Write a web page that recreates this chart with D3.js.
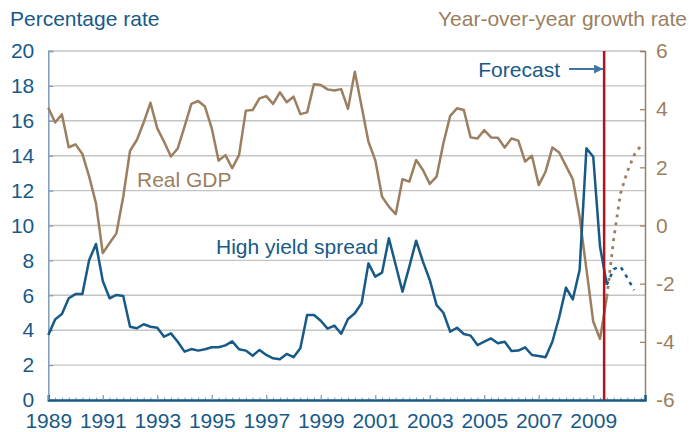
<!DOCTYPE html>
<html>
<head>
<meta charset="utf-8">
<script src="https://cdn.jsdelivr.net/npm/d3@7"></script>
<style>
  body { margin: 0; background: #fff; }
  text { font-family: "Liberation Sans", Arial, sans-serif; }
</style>
</head>
<body>
<div id="main-container"></div>
<script>
// DATA (quarterly, starting 1989 Q1)
const startYear = 1989;
const forecastYear = 2009.4;
const forecastStart = 82; // quarter index where forecasts begin

// Real GDP, year-over-year growth rate (right axis)
const gdpActual = [
  4.05, 3.54, 3.82, 2.69, 2.79, 2.46, 1.68, 0.76, -0.95, -0.6,
  -0.27, 0.99, 2.57, 2.94, 3.54, 4.22, 3.34, 2.88, 2.37, 2.65,
  3.40, 4.18, 4.28, 4.09, 3.34, 2.23, 2.42, 1.97, 2.42, 3.95,
  3.97, 4.37, 4.45, 4.18, 4.58, 4.24, 4.43, 3.83, 3.89, 4.86,
  4.83, 4.68, 4.64, 4.69, 4.01, 5.29, 4.09, 2.88, 2.25, 0.99,
  0.65, 0.39, 1.59, 1.51, 2.25, 1.91, 1.43, 1.68, 2.83, 3.77,
  4.03, 3.97, 3.03, 2.99, 3.28, 3.03, 3.02, 2.68, 2.99, 2.92,
  2.20, 2.40, 1.39, 1.85, 2.68, 2.51, 2.05, 1.59, 0.3, -1.5,
  -3.3, -3.9, -2.45
];
const gdpForecast = [-2.45, -0.47, 1.1, 1.85, 2.42, 2.75];

// High yield spread, percentage rate (left axis)
const spreadActual = [
  3.72, 4.62, 4.93, 5.83, 6.07, 6.07, 8.02, 8.94, 6.82, 5.83,
  6.02, 5.96, 4.20, 4.11, 4.34, 4.20, 4.14, 3.63, 3.82, 3.34,
  2.77, 2.92, 2.83, 2.91, 3.02, 3.02, 3.13, 3.36, 2.91, 2.83,
  2.54, 2.87, 2.58, 2.39, 2.33, 2.64, 2.45, 2.96, 4.87, 4.87,
  4.54, 4.09, 4.26, 3.80, 4.64, 4.97, 5.54, 7.83, 7.07, 7.30,
  9.27, 7.74, 6.21, 7.64, 9.13, 7.93, 6.88, 5.44, 5.00, 3.92,
  4.14, 3.78, 3.69, 3.15, 3.34, 3.53, 3.25, 3.34, 2.81, 2.83,
  3.02, 2.58, 2.52, 2.45, 3.34, 4.74, 6.44, 5.77, 7.45, 14.42,
  13.94, 8.78, 6.6
];
const spreadForecast = [6.6, 7.5, 7.65, 7.0, 6.3];

const yearTicks = [1989, 1991, 1993, 1995, 1997, 1999, 2001, 2003, 2005, 2007, 2009];
const leftTicks = [0, 2, 4, 6, 8, 10, 12, 14, 16, 18, 20];
const rightTicks = [-6, -4, -2, 0, 2, 4, 6];

// CONSTANTS
const W = 689, H = 432;
const plot = {left: 48.3, right: 645, top: 51, bottom: 400};
const blue = "#175a87", tan = "#9b7f60", red = "#b3141c";

const toYear = (i) => startYear + i / 4;
const actual = (arr) => arr.map((v, i) => ({t: toYear(i), v}));
const forecast = (arr) => arr.map((v, i) => ({t: toYear(forecastStart + i), v}));

// DRAWING SETUP
let svg = d3.select("#main-container")
  .append("svg")
    .attr("width", W)
    .attr("height", H)
    .style("background", "#fff");

let x = d3.scaleLinear().domain([1989, 2010.9]).range([plot.left, plot.right]);
let yL = d3.scaleLinear().domain([0, 20]).range([plot.bottom, plot.top]);
let yR = d3.scaleLinear().domain([-6, 6]).range([plot.bottom, plot.top]);

// gridlines
svg.append("g")
  .selectAll("line")
  .data(leftTicks.slice(1))
  .enter()
  .append("line")
    .attr("x1", plot.left)
    .attr("x2", plot.right)
    .attr("y1", (d) => yL(d))
    .attr("y2", (d) => yL(d))
    .attr("stroke", "#c4c4c4")
    .attr("stroke-width", 1.4);

// left axis
let leftAxis = svg.append("g")
  .attr("transform", `translate(${plot.left}, 0)`)
  .call(d3.axisLeft(yL).tickValues(leftTicks).tickSize(-5).tickPadding(14));
leftAxis.select(".domain").attr("stroke", "#7f9cb8").attr("stroke-width", 1.5);
leftAxis.selectAll(".tick line").attr("stroke", "#7f9cb8").attr("stroke-width", 1.2);
leftAxis.selectAll("text").attr("fill", blue).style("font-size", "21px");

// right axis
let rightAxis = svg.append("g")
  .attr("transform", `translate(${plot.right}, 0)`)
  .call(d3.axisRight(yR).tickValues(rightTicks).tickSize(-5).tickPadding(11)
    .tickFormat((d) => String(d)));
rightAxis.select(".domain").attr("stroke", tan).attr("stroke-width", 1.5);
rightAxis.selectAll(".tick line").attr("stroke", tan).attr("stroke-width", 1.2);
rightAxis.selectAll("text").attr("fill", tan).style("font-size", "21px");

// minor quarterly ticks
let minor = svg.append("g")
  .attr("transform", `translate(0, ${plot.bottom})`)
  .call(d3.axisBottom(x).tickValues(d3.range(0, 88).map(toYear)).tickSize(-2.5).tickFormat(""));
minor.select(".domain").remove();
minor.selectAll(".tick line").attr("stroke", "#7f9cb8").attr("stroke-width", 1);

// bottom axis
let xAxis = svg.append("g")
  .attr("transform", `translate(0, ${plot.bottom})`)
  .call(d3.axisBottom(x).tickValues(yearTicks).tickSize(-5).tickPadding(13)
    .tickFormat(d3.format("d")));
xAxis.select(".domain").attr("stroke", blue).attr("stroke-width", 2.5);
xAxis.selectAll(".tick line").attr("stroke", "#7f9cb8").attr("stroke-width", 1.2);
xAxis.selectAll("text").attr("fill", blue).style("font-size", "21px");

// series
let lineL = d3.line().x((d) => x(d.t)).y((d) => yL(d.v));
let lineR = d3.line().x((d) => x(d.t)).y((d) => yR(d.v));

svg.append("path")
  .datum(actual(gdpActual))
  .attr("d", lineR)
  .attr("fill", "none")
  .attr("stroke", tan)
  .attr("stroke-width", 2.5)
  .attr("stroke-linejoin", "round");

svg.append("path")
  .datum(forecast(gdpForecast))
  .attr("d", lineR)
  .attr("fill", "none")
  .attr("stroke", tan)
  .attr("stroke-width", 2.8)
  .attr("stroke-dasharray", "3,5");

svg.append("path")
  .datum(actual(spreadActual))
  .attr("d", lineL)
  .attr("fill", "none")
  .attr("stroke", blue)
  .attr("stroke-width", 2.5)
  .attr("stroke-linejoin", "round");

svg.append("path")
  .datum(forecast(spreadForecast))
  .attr("d", lineL)
  .attr("fill", "none")
  .attr("stroke", blue)
  .attr("stroke-width", 2.5)
  .attr("stroke-dasharray", "3.5,5");

// forecast marker
svg.append("line")
  .attr("x1", x(forecastYear))
  .attr("x2", x(forecastYear))
  .attr("y1", plot.top)
  .attr("y2", plot.bottom)
  .attr("stroke", red)
  .attr("stroke-width", 2.5);

svg.append("defs").append("marker")
    .attr("id", "arrow")
    .attr("viewBox", "0 0 10 10")
    .attr("refX", 10)
    .attr("refY", 5)
    .attr("markerWidth", 5)
    .attr("markerHeight", 5)
    .attr("markerUnits", "strokeWidth")
    .attr("orient", "auto")
  .append("path")
    .attr("d", "M0,0L10,5L0,10z")
    .attr("fill", "#3f75a0");

svg.append("line")
  .attr("x1", 569)
  .attr("x2", x(forecastYear) - 1)
  .attr("y1", 69)
  .attr("y2", 69)
  .attr("stroke", "#3f75a0")
  .attr("stroke-width", 1.8)
  .attr("marker-end", "url(#arrow)");

// labels
const label = (txt, px, py, col, anchor) => svg.append("text")
  .attr("x", px)
  .attr("y", py)
  .attr("fill", col)
  .attr("text-anchor", anchor || "start")
  .style("font-size", "21px")
  .text(txt);

label("Percentage rate", 10, 26, blue);
label("Year-over-year growth rate", 687, 26, tan, "end");
label("Forecast", 560, 77, blue, "end");
label("Real GDP", 137, 187, tan);
label("High yield spread", 216, 254, blue);
</script>
</body>
</html>
